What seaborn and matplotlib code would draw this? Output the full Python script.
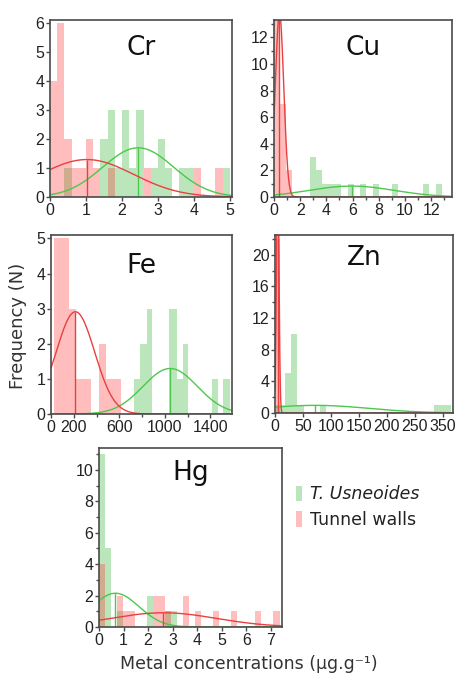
import numpy as np
import pandas as pd
import matplotlib
matplotlib.use('Agg')
import matplotlib.pyplot as plt
from matplotlib.patches import Patch
import seaborn as sns

sns.set_theme(style='ticks', rc={'axes.edgecolor': '#4a4a4a', 'axes.linewidth': 1.2})
plt.rcParams['font.family'] = ['DejaVu Sans']
TICK_FONT = ['Liberation Sans', 'DejaVu Sans']


def even_bins(start, width, n):
    return [round(start + i * width, 4) for i in range(n + 1)]


# --- data: bin edges + counts per group ---
series = ['T. Usneoides', 'Tunnel walls']

cr_edges = even_bins(0, 0.2, 25)
cr_plant = [0, 0, 1, 0, 0, 0, 0, 2, 3, 1, 3, 1, 3, 0, 1, 2, 1, 0, 1, 1, 0, 0, 0, 0, 1]
cr_wall = [4, 6, 2, 1, 1, 2, 1, 0, 1, 0, 0, 0, 0, 1, 0, 0, 0, 0, 0, 0, 1, 0, 0, 1, 0]

cu_plant_edges = even_bins(2.74, 0.48, 21)
cu_plant = [3, 2, 1, 1, 1, 0, 1, 0, 1, 0, 1, 0, 0, 1, 0, 0, 0, 0, 1, 0, 1]
cu_wall_edges = [0, 0.44, 0.90, 1.36]
cu_wall = [16, 7, 2]

fe_plant_edges = [731, 781, 840, 889, 1038, 1103, 1156, 1205, 1411, 1469, 1513, 1571]
fe_plant = [1, 2, 3, 0, 3, 1, 2, 0, 1, 0, 1]
fe_wall_edges = even_bins(28, 65, 9)
fe_wall = [5, 5, 3, 1, 1, 0, 2, 1, 1]

zn_plant_edges = [1, 18, 29, 40, 51, 80, 91, 284, 294, 305, 315]
zn_plant = [1, 5, 10, 1, 0, 1, 0, 1, 1, 1]
zn_wall_edges = [1.0, 8.7]
zn_wall = [22]

hg_edges = even_bins(0, 0.245, 30)
hg_plant = [11, 5, 0, 1, 0, 0, 0, 0, 2, 0, 0, 1, 1, 0, 0,
            0, 0, 0, 0, 0, 0, 0, 0, 0, 0, 0, 0, 0, 0, 0]
hg_wall = [4, 0, 0, 2, 1, 1, 0, 0, 0, 2, 2, 1, 0, 0, 2,
           0, 1, 0, 0, 1, 0, 0, 1, 0, 0, 0, 1, 0, 0, 1]

# axis setup per panel
panels = {
    'Cr': dict(data=[(cr_edges, cr_plant), (cr_edges, cr_wall)],
               rect=[0.1094, 0.7081, 0.3982, 0.2622], xlim=(0, 5.06), ylim=(0, 6.1),
               xt=[0, 1, 2, 3, 4, 5], yt=[0, 1, 2, 3, 4, 5, 6], ty=0.80),
    'Cu': dict(data=[(cu_plant_edges, cu_plant), (cu_wall_edges, cu_wall)],
               rect=[0.5996, 0.7081, 0.3895, 0.2622], xlim=(0, 13.6), ylim=(0, 13.3),
               xt=[0, 2, 4, 6, 8, 10, 12], yt=[0, 2, 4, 6, 8, 10, 12],
               xm=[1, 3, 5, 7, 9, 11, 13], ym=[1, 3, 5, 7, 9, 11, 13], ty=0.80),
    'Fe': dict(data=[(fe_plant_edges, fe_plant), (fe_wall_edges, fe_wall)],
               rect=[0.1116, 0.3867, 0.3961, 0.2652], xlim=(0, 1590), ylim=(0, 5.1),
               xt=[0, 200, 600, 1000, 1400], yt=[0, 1, 2, 3, 4, 5],
               xm=[400, 800, 1200], ty=0.79),
    'Zn': dict(data=[(zn_plant_edges, zn_plant), (zn_wall_edges, zn_wall)],
               rect=[0.6018, 0.3881, 0.3895, 0.2637], xlim=(0, 318), ylim=(0, 22.5),
               xt=[0, 50, 100, 150, 200, 250, 300],
               xtl=['0', '50', '100', '150', '200', '250', '350'],
               yt=[0, 4, 8, 12, 16, 20], ym=[2, 6, 10, 14, 18, 22], ty=0.83),
    'Hg': dict(data=[(hg_edges, hg_plant), (hg_edges, hg_wall)],
               rect=[0.2166, 0.0711, 0.4004, 0.2652], xlim=(0, 7.45), ylim=(0, 11.4),
               xt=[0, 1, 2, 3, 4, 5, 6, 7], yt=[0, 2, 4, 6, 8, 10],
               ym=[1, 3, 5, 7, 9, 11], ty=0.82),
}

bar_colors = ['#1fae1f', '#ff2626']
line_colors = ['#4cc84c', '#e8403f']


def draw_group(ax, edges, counts, color, lcolor, xlim):
    edges = np.asarray(edges, float)
    counts = np.asarray(counts, float)
    centers = (edges[:-1] + edges[1:]) / 2
    widths = np.diff(edges)
    df = pd.DataFrame({'x': centers, 'n': counts})
    sns.histplot(data=df, x='x', weights='n', bins=edges.tolist(), stat='count',
                 color=color, alpha=0.3, linewidth=0, ax=ax)
    # normal fit scaled to the histogram
    n = counts.sum()
    mean = (centers * counts).sum() / n
    var = (counts * (centers - mean) ** 2).sum() / (n - 1) + np.median(widths[counts > 0]) ** 2 / 12
    sd = np.sqrt(var)
    area = (counts * widths).sum()
    xs = np.linspace(xlim[0], xlim[1], 3000)
    ys = area * np.exp(-0.5 * ((xs - mean) / sd) ** 2) / (sd * np.sqrt(2 * np.pi))
    ax.plot(xs, ys, color=lcolor, lw=1.0)
    ax.vlines(mean, 0, area / (sd * np.sqrt(2 * np.pi)), color=lcolor, lw=1.0)


fig = plt.figure(figsize=(4.57, 6.75), dpi=100)

for name, p in panels.items():
    ax = fig.add_axes(p['rect'])
    for (edges, counts), c, lc in zip(p['data'], bar_colors, line_colors):
        draw_group(ax, edges, counts, c, lc, p['xlim'])
    ax.set_xlim(p['xlim'])
    ax.set_ylim(p['ylim'])
    ax.set_xticks(p['xt'])
    ax.set_xticklabels(p.get('xtl', [str(v) for v in p['xt']]))
    ax.set_yticks(p['yt'])
    if 'xm' in p:
        ax.set_xticks(p['xm'], minor=True)
    if 'ym' in p:
        ax.set_yticks(p['ym'], minor=True)
    ax.set(xlabel='', ylabel='')
    ax.tick_params(which='both', direction='out', length=3, width=1, pad=1,
                   labelsize=11.5, colors='#4a4a4a', labelcolor='#222222')
    ax.tick_params(which='minor', length=2)
    for lab in ax.get_xticklabels() + ax.get_yticklabels():
        lab.set_family(TICK_FONT)
    for s in ax.spines.values():
        s.set_visible(True)
    ax.text(0.5, p['ty'], name, transform=ax.transAxes, ha='center', va='baseline',
            fontsize=19, color='#111111')

fig.text(0.039, 0.517, 'Frequency (N)', rotation=90, ha='center', va='center',
         fontsize=13, color='#333333')
fig.text(0.545, 0.016, 'Metal concentrations (µg.g⁻¹)', ha='center', va='center',
         fontsize=12.5, color='#333333')

handles = [Patch(facecolor=c, alpha=0.3, edgecolor='none') for c in bar_colors]
leg = fig.legend(handles, series, loc='upper left', bbox_to_anchor=(0.614, 0.304),
                 frameon=False, handlelength=0.35, handleheight=1.0, handletextpad=0.45,
                 labelspacing=0.44, fontsize=12.5)
leg.get_texts()[0].set_style('italic')
for t in leg.get_texts():
    t.set_color('#222222')

fig.savefig('out.png', dpi=100)
